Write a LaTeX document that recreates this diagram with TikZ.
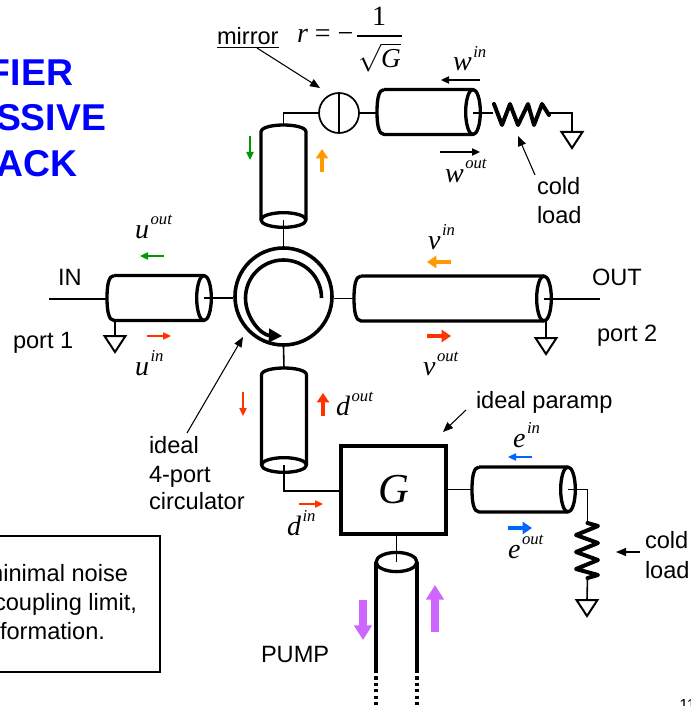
\documentclass[tikz,border=0pt]{standalone}
\usepackage{fontspec}
\setmainfont{Liberation Sans}
\newfontfamily\tms{Liberation Serif}
\usetikzlibrary{arrows.meta,calc}
\definecolor{sigred}{HTML}{FF3300}
\definecolor{sigorange}{HTML}{FF9900}
\definecolor{siggreen}{HTML}{009900}
\definecolor{sigblue}{HTML}{0066FF}
\definecolor{sigpurple}{HTML}{CC66FF}
\newcommand{\lab}[2]{{\tms\itshape\fontsize{21}{22}\selectfont #1\kern1.2pt\raisebox{10pt}{\fontsize{12.5}{14}\selectfont #2}}}
\tikzset{
  x=0.75pt,y=-0.75pt,
  txt/.style={anchor=base west,inner sep=0pt,outer sep=0pt,font=\fontsize{17.7}{20}\selectfont},
  sym/.style={anchor=base west,inner sep=0pt,outer sep=0pt},
  title/.style={anchor=base east,inner sep=0pt,outer sep=0pt,text=blue,font=\fontsize{28}{30}\selectfont\bfseries},
  cable/.style={line width=2.5pt,line join=round},
  wire/.style={line width=1.2pt},
  res/.style={line width=3pt,line join=round,line cap=round},
  note/.style={line width=0.8pt,-{Triangle[length=7.5pt,width=6pt]}},
  thin sig/.style={line width=0.8pt,-{Triangle[length=6pt,width=5.5pt]}},
  thick sig/.style={line width=2.4pt,-{Triangle[length=7pt,width=9pt]}},
  pump sig/.style={line width=6pt,color=sigpurple,-{Triangle[length=11pt,width=13pt]}},
  gnd/.style={line width=1.5pt,line join=miter},
}
\newcommand{\hcable}[4]{% name, left x, ellipse x, centre y
  \coordinate (#1-l) at (#2,#4);
  \coordinate (#1-r) at (#3,#4);
  \coordinate (#1-b) at (#3,{#4+22.5});
  \draw[cable] ({#2+7},{#4-22.5}) -- (#3,{#4-22.5})
    ({#2+7},{#4-22.5}) .. controls ({#2+1.5},{#4-22.5}) and (#2,{#4-12}) .. (#2,#4)
    .. controls (#2,{#4+12}) and ({#2+1.5},{#4+22.5}) .. ({#2+7},{#4+22.5}) -- (#3,{#4+22.5});
  \draw[cable] (#1-r) ellipse [x radius=5.5pt,y radius=16.9pt];
}
\newcommand{\vcable}[4]{% name, centre x, top y, ellipse y
  \coordinate (#1-t) at (#2,#3);
  \coordinate (#1-e) at (#2,#4);
  \draw[cable] ({#2-22.5},#4) -- ({#2-22.5},{#3+7})
    .. controls ({#2-22.5},{#3+2}) and ({#2-10},#3) .. (#2,#3)
    .. controls ({#2+10},#3) and ({#2+22.5},{#3+2}) .. ({#2+22.5},{#3+7}) -- ({#2+22.5},#4);
  \draw[cable] (#1-e) ellipse [x radius=16.9pt,y radius=5.5pt];
}
\newcommand{\gndsym}[3]{% name, x, top y
  \coordinate (#1) at (#2,#3);
  \draw[gnd] ({#2-10.5},#3) -- ({#2+10.5},#3) -- (#2,{#3+16}) -- cycle;
}
\begin{document}
\begin{tikzpicture}
\useasboundingbox (0,0) rectangle (690,706);
\clip (0,0) rectangle (690,706);
\fill[white] (0,0) rectangle (690,706);

% Title
\node[title] (t1) at (73,86) {FIER};
\node[title] (t2) at (106,131) {SSIVE};
\node[title] (t3) at (77,176) {ACK};

% Note box
\node[draw=black,line width=0.8pt,minimum width=135pt,minimum height=102pt,inner sep=0pt] (notebox) at (70,604) {};
\node[txt,anchor=base east] (n1) at (128,581) {minimal noise};
\node[txt,anchor=base east] (n2) at (137,610) {coupling limit,};
\node[txt,anchor=base east] (n3) at (105,639) {formation.};

% Page number
\node[inner sep=0pt,anchor=base west,font=\fontsize{12}{14}\selectfont] (pg) at (679,710) {11};

% Main nodes
\node[draw,circle,line width=2.7pt,minimum size=72.75pt,inner sep=0pt] (circ) at (283.5,296.5) {};
\node[draw,circle,line width=1.3pt,minimum size=30pt,inner sep=0pt] (mirror) at (339,113) {};
\node[draw,rectangle,line width=2.3pt,minimum width=78.75pt,minimum height=66pt,inner sep=0pt,
      font=\tms\itshape\fontsize{32}{34}\selectfont] (gain) at (393.5,490) {G};
\draw[wire] (mirror.north) -- (mirror.south);

% Cables
\hcable{w}{377}{473}{112}
\hcable{u}{107}{204}{298}
\hcable{v}{354}{544}{298.5}
\hcable{e}{472}{568}{489.5}
\vcable{a}{283.5}{125}{220}
\vcable{d}{284}{368}{465}

% Pump line
\coordinate (p-e) at (396.5,562);
\draw[cable] (p-e) ellipse [x radius=15.3pt,y radius=7.2pt];
\draw[cable] (376,562) -- (376,670) (417,562) -- (417,670);
\draw[cable,dash pattern=on 2.4pt off 2.4pt] (376,670) -- (376,712) (417,670) -- (417,712);

% Connectors
\draw[wire] (mirror.west) -| (a-t);
\draw[wire] (mirror.east) -- (mirror.east -| w-l);
\draw[wire] (a-e) -- (circ.north);
\draw[wire] (circ.south) -- (d-t);
\draw[wire] (u-r) -- (u-r -| circ.west);
\draw[wire] (v-l) -- (v-l -| circ.east);
\draw[wire] (d-e) |- (gain.west |- 0,491);
\draw[wire] (e-l) -- (e-l -| gain.east);
\draw[wire] (gain.south -| p-e) -- (p-e);
\coordinate (in) at (49,299);
\draw[wire] (in) -- (in -| u-l);
\coordinate (out) at (600,299);
\draw[wire] (out) -- (out -| v-r);

% Circulator inner arrow
\draw[line width=2.7pt,-{Triangle[length=10pt,width=10pt]}] (321.5,298) arc[start angle=0,end angle=268,radius=28.5pt];

% Grounds
\gndsym{gu}{115}{336}
\gndsym{gv}{546}{338}
\gndsym{gw}{572}{132}
\gndsym{ge}{587}{600}
\draw[gnd] (gu) -- (gu |- u-b);
\draw[gnd] (gv) -- (gv |- v-b);

% Upper resistor
\coordinate (rw1) at (493,113);
\coordinate (rw2) at (549,113);
\draw[wire] (w-r) ++(0,1) -- (rw1);
\draw[res] (494,104) -- (502,125) -- (510,104) -- (518,125) -- (528,104) -- (534,125) -- (542,104) -- (549,115);
\draw[wire] (rw2) -| (gw);

% Lower resistor
\coordinate (re1) at (587.5,523);
\coordinate (re2) at (587.5,578);
\draw[wire] (e-r) -| (re1);
\draw[res] (re1) -- (598,526) -- (576,535) -- (598,543) -- (576,552) -- (598,560) -- (576,569) -- (598,575) -- (re2);
\draw[wire] (re2) -- (ge);

% Signal arrows
\coordinate (g1) at (250,136); \coordinate (g2) at (250,160);
\draw[thin sig,siggreen] (g1) -- (g2);
\coordinate (o1) at (322,172); \coordinate (o2) at (322,149);
\draw[thick sig,sigorange] (o1) -- (o2);
\coordinate (wi1) at (480,80); \coordinate (wi2) at (441,80);
\draw[thin sig] (wi1) -- (wi2);
\coordinate (wo1) at (440,152); \coordinate (wo2) at (480,152);
\draw[thin sig] (wo1) -- (wo2);
\coordinate (uo1) at (164,256); \coordinate (uo2) at (140,256);
\draw[thin sig,siggreen] (uo1) -- (uo2);
\coordinate (ui1) at (147,336); \coordinate (ui2) at (171,336);
\draw[thin sig,sigred] (ui1) -- (ui2);
\coordinate (vi1) at (451,262); \coordinate (vi2) at (427,262);
\draw[thick sig,sigorange] (vi1) -- (vi2);
\coordinate (vo1) at (427,336); \coordinate (vo2) at (451,336);
\draw[thick sig,sigred] (vo1) -- (vo2);
\coordinate (di1) at (243,392); \coordinate (di2) at (243,416);
\draw[thin sig,sigred] (di1) -- (di2);
\coordinate (do1) at (323,416); \coordinate (do2) at (323,393);
\draw[thick sig,sigred] (do1) -- (do2);
\coordinate (dn1) at (299,504); \coordinate (dn2) at (323,504);
\draw[thin sig,sigred] (dn1) -- (dn2);
\coordinate (ei1) at (532,457); \coordinate (ei2) at (508,457);
\draw[thin sig,sigblue] (ei1) -- (ei2);
\coordinate (eo1) at (508,528); \coordinate (eo2) at (532,528);
\draw[thick sig,sigblue] (eo1) -- (eo2);
\coordinate (pd1) at (363,600); \coordinate (pd2) at (363,640);
\draw[pump sig] (pd1) -- (pd2);
\coordinate (pu1) at (435,632); \coordinate (pu2) at (435,585);
\draw[pump sig] (pu1) -- (pu2);

% Signal labels
\node[sym] (lwi) at (453,71) {\lab{w}{in}};
\node[sym] (lwo) at (445,182) {\lab{w}{out}};
\node[sym] (luo) at (135,238) {\lab{u}{out}};
\node[sym] (lui) at (135,375) {\lab{u}{in}};
\node[sym] (lvi) at (428,249) {\lab{v}{in}};
\node[sym] (lvo) at (423,375) {\lab{v}{out}};
\node[sym] (ldo) at (336,415) {\lab{d}{out}};
\node[sym] (ldi) at (287,535) {\lab{d}{in}};
\node[sym] (lei) at (513,447) {\lab{e}{in}};
\node[sym] (leo) at (508,558) {\lab{e}{out}};

% Text
\node[txt] (lin) at (58,285) {IN};
\node[txt] (lp1) at (13,348) {port 1};
\node[txt] (lout) at (592,285) {OUT};
\node[txt] (lp2) at (597,341) {port 2};
\node[txt] (lmir) at (217,45) {\underline{mirror}};
\node[txt] (lc1) at (537,195) {cold};
\node[txt] (ll1) at (537,223) {load};
\node[txt] (lc2) at (645,548) {cold};
\node[txt] (ll2) at (645,578) {load};
\node[txt] (lid1) at (149,453) {ideal};
\node[txt] (lid2) at (149,482) {4-port};
\node[txt] (lid3) at (149,509) {circulator};
\node[txt] (lpar) at (476,408) {ideal paramp};
\node[txt] (lpump) at (261,662) {PUMP};

% Formula
\node[sym,font=\tms\fontsize{21}{24}\selectfont] (flhs) at (297,43) {{\itshape r} = −};
\node[sym,anchor=base,font=\tms\fontsize{21}{24}\selectfont] (fnum) at (379,26) {1};
\node[sym,anchor=base,font=\tms\fontsize{20.5}{24}\selectfont] (fden) at (379.5,68) {$\sqrt{\hbox{\itshape G}}$};
\coordinate (fb1) at (357,36); \coordinate (fb2) at (402,36);
\draw[line width=1pt] (fb1) -- (fb2);

% Annotation arrows
\coordinate (am) at (257,48);
\draw[note] (am) -- (320,88);
\coordinate (ac) at (535,175);
\draw[note] (ac) -- (518,136);
\coordinate (ac2) at (187,433);
\draw[note] (ac2) -- (243,337);
\coordinate (ap) at (466,410);
\draw[note] (ap) -- (443,432);
\coordinate (ar) at (640,552);
\draw[note] (ar) -- (616,552);
\end{tikzpicture}
\end{document}
